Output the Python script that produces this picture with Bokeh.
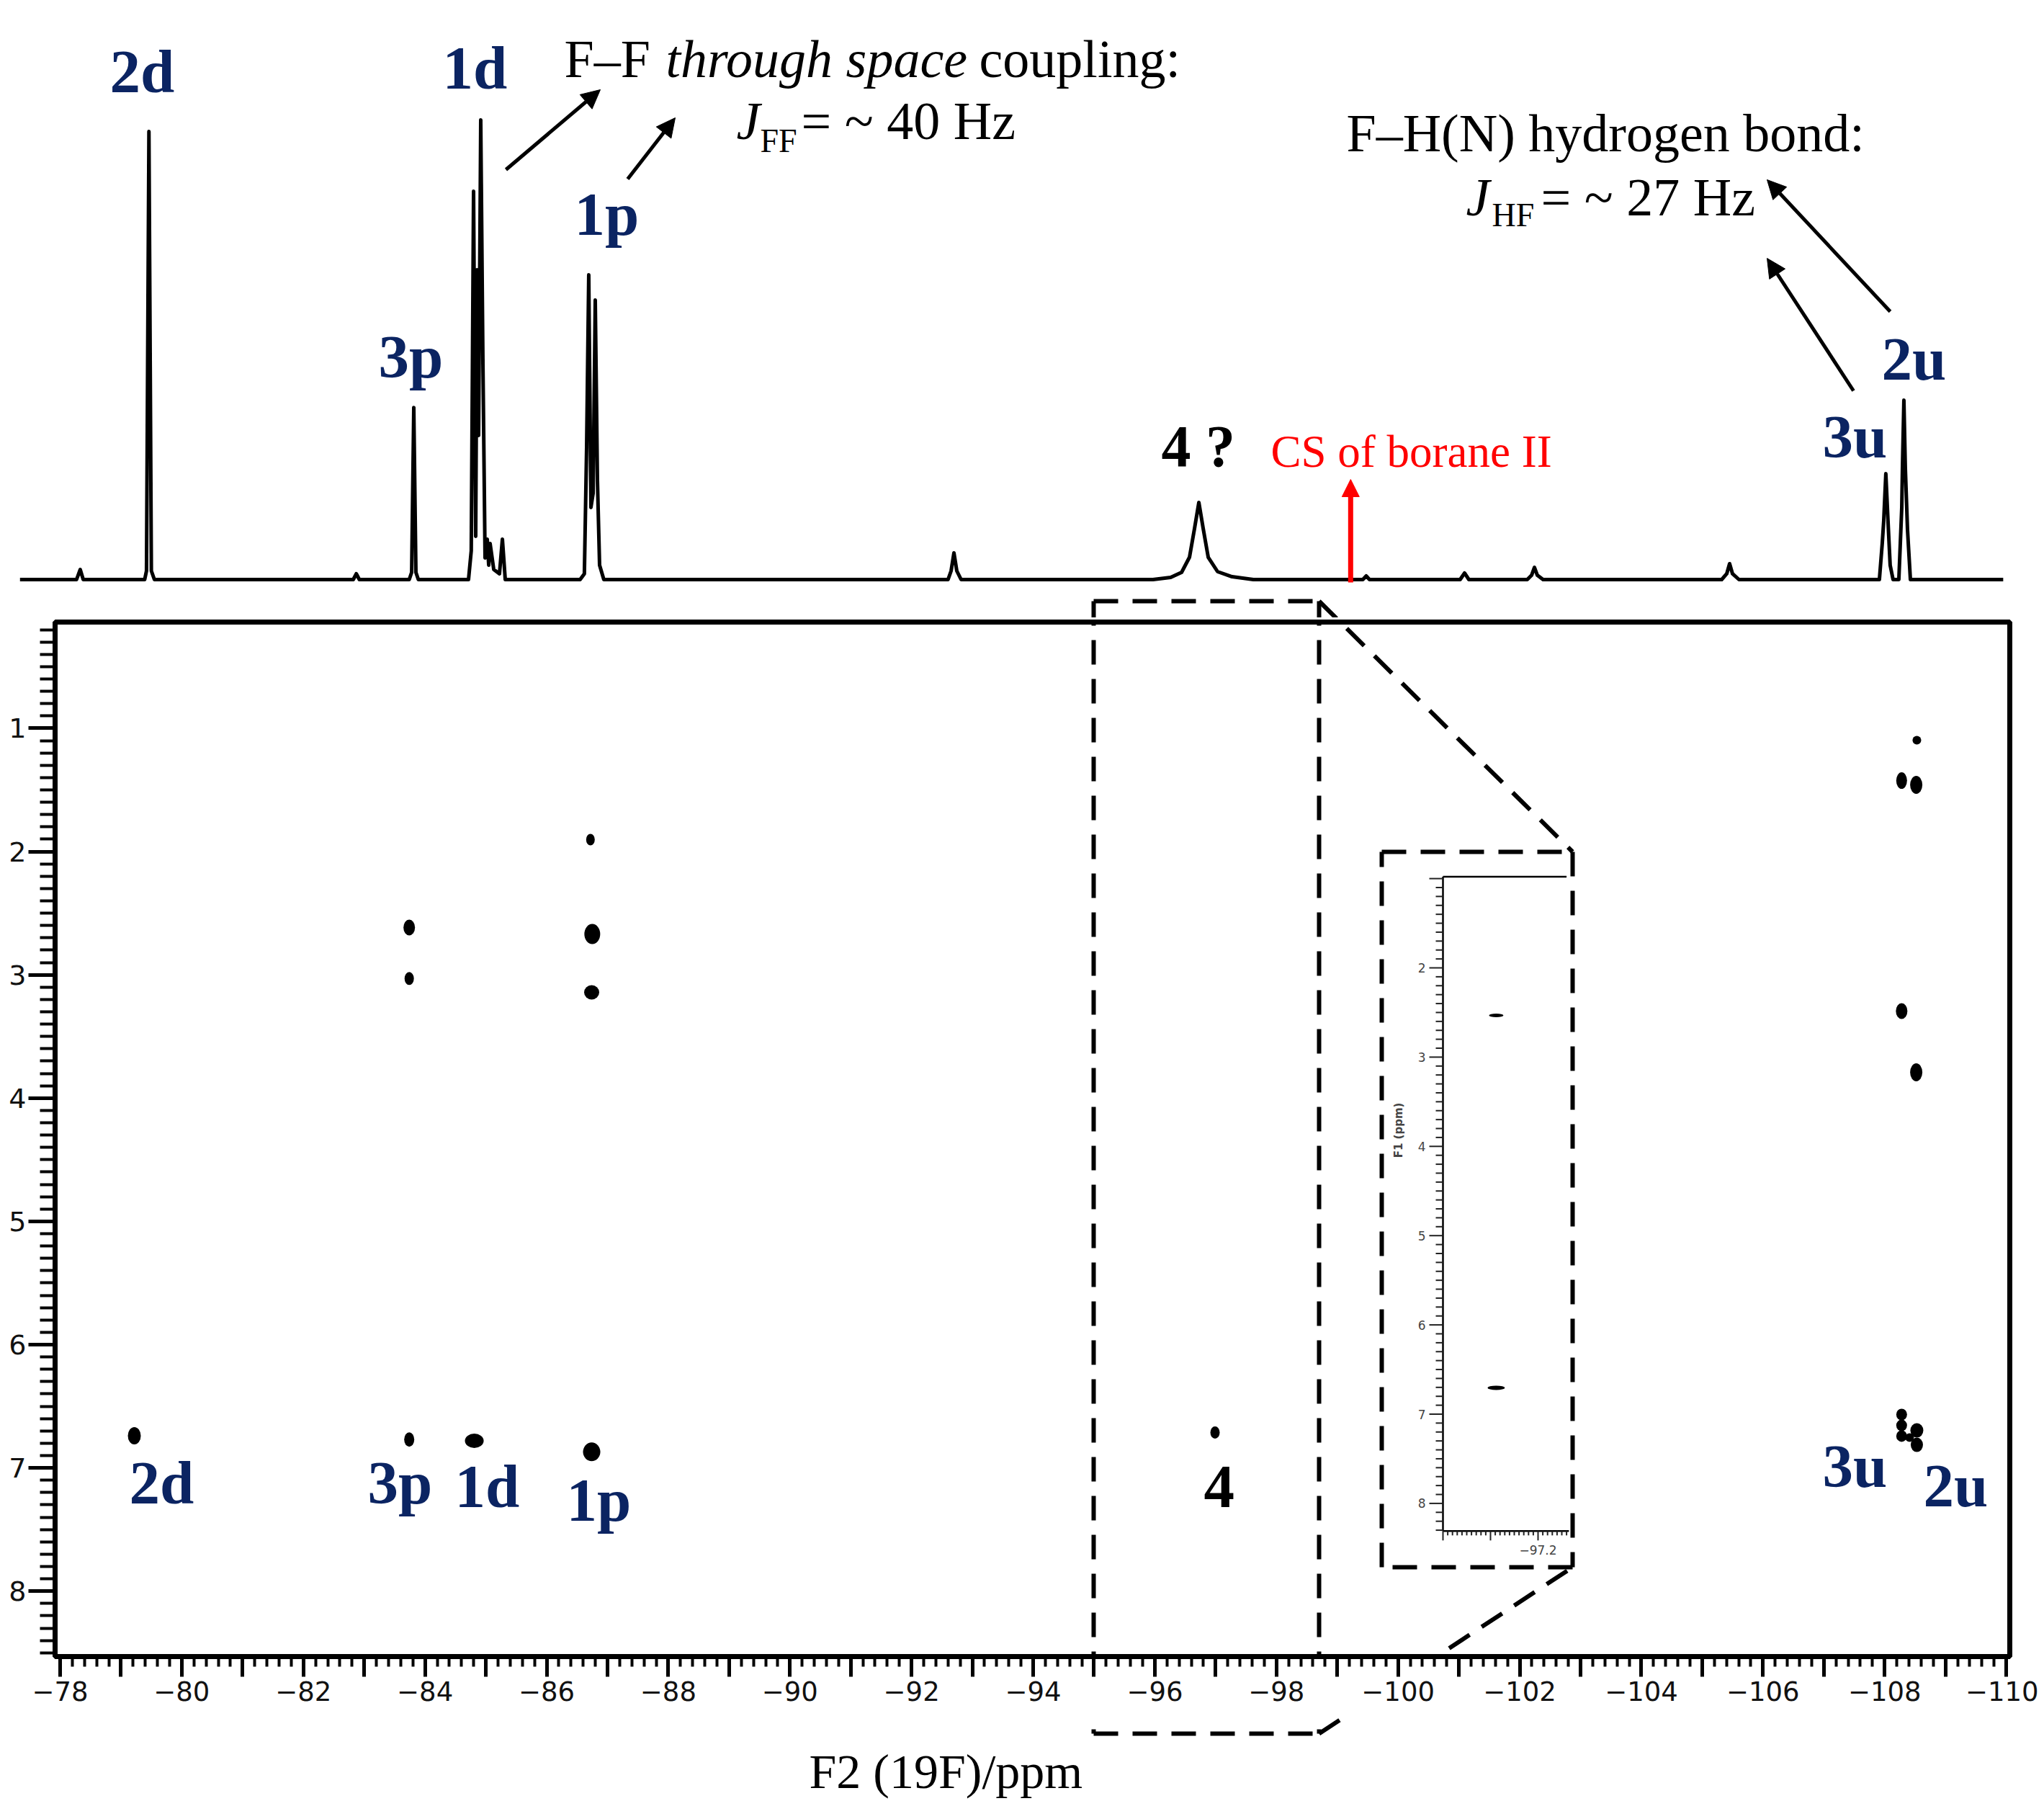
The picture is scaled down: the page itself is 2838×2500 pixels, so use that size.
import numpy as np
from bokeh.plotting import figure
from bokeh.models import Range1d, Label, Arrow, NormalHead, SingleIntervalTicker
from bokeh.layouts import column
from bokeh.embed import file_html
from bokeh.resources import INLINE
from bokeh.core.properties import value

# ---------------------------------------------------------------- data
# 1D 19F spectrum trace, vertices (ppm, intensity a.u., 2d = 100)
spec_ppm = [-77.34,
            -78.27, -78.33, -78.38,
            -79.39, -79.42, -79.46, -79.50, -79.55,
            -82.82, -82.87, -82.92,
            -83.74, -83.78, -83.815, -83.85, -83.89,
            -84.715, -84.76, -84.798, -84.833, -84.857, -84.881, -84.916, -84.952,
            -84.987, -85.023, -85.047, -85.070, -85.130, -85.224, -85.272, -85.319,
            -86.55, -86.62, -86.657, -86.692, -86.728, -86.764, -86.799, -86.835, -86.87, -86.94,
            -92.60, -92.65, -92.697, -92.744, -92.815,
            -95.97, -96.26, -96.44, -96.57, -96.653, -96.724, -96.795, -96.878, -97.032, -97.27, -97.62,
            -99.42, -99.476, -99.53,
            -101.02, -101.093, -101.164,
            -102.124, -102.195, -102.242, -102.29, -102.384,
            -105.321, -105.404, -105.451, -105.499, -105.605,
            -107.914, -107.961, -107.985, -108.02, -108.056, -108.091, -108.139,
            -108.234, -108.282, -108.293, -108.317, -108.341, -108.376, -108.424,
            -109.95]
spec_int = [0.0,
            0.0, 2.25, 0.0,
            0.0, 1.93, 100.0, 1.93, 0.0,
            0.0, 1.29, 0.0,
            0.0, 1.61, 38.4, 1.61, 0.0,
            0.0, 6.43, 86.66, 9.65, 69.13, 32.15, 102.57, 48.23,
            4.82, 9.00, 3.22, 8.04, 2.25, 1.29, 9.00, 0.0,
            0.0, 1.29, 29.58, 68.01, 16.08, 19.29, 62.38, 22.03, 3.22, 0.0,
            0.0, 1.93, 5.95, 1.93, 0.0,
            0.0, 0.48, 1.61, 4.98, 11.41, 17.2, 11.41, 4.98, 1.77, 0.64, 0.0,
            0.0, 0.8, 0.0,
            0.0, 1.45, 0.0,
            0.0, 0.96, 2.73, 0.96, 0.0,
            0.0, 1.29, 3.54, 1.29, 0.0,
            0.0, 8.04, 13.02, 23.63, 13.02, 3.22, 0.0,
            0.0, 16.08, 24.76, 40.03, 24.76, 11.25, 0.0,
            0.0]

borane_ii_ppm = -99.22   # chemical shift of borane II (red arrow)

# 2D cross peaks: F2 (19F, ppm) and F1 (1H, ppm)
xpk_name = ["2d", "3p", "1d", "1p", "3p", "3p", "1p", "1p", "1p", "4",
            "2u", "3u", "2u", "3u", "2u", "3u", "3u", "3u", "2u", "2u", "2u"]
xpk_f2 = [-79.22, -83.74, -84.81, -86.74, -83.74, -83.74, -86.72, -86.75, -86.74, -96.99,
          -108.53, -108.28, -108.52, -108.28, -108.52, -108.28, -108.28, -108.28, -108.53, -108.53, -108.41]
xpk_f1 = [6.74, 6.77, 6.78, 6.87, 2.616, 3.03, 1.903, 2.669, 3.142, 6.713,
          1.096, 1.424, 1.459, 3.294, 3.791, 6.567, 6.655, 6.742, 6.696, 6.813, 6.754]

# inset (zoom on compound 4)
inset_f2 = [-97.112, -97.112]
inset_f1 = [2.533, 6.705]
inset_f2_lim = (-97.0, -97.26)
inset_f1_lim = (0.98, 8.31)

# ---------------------------------------------------------------- geometry helpers (page px -> data)
def tx(px):
    return -78.0 - (px - 83.0) / 84.44

def ty1(py):
    return (804.0 - py) / 6.22

def ty2(py):
    return 0.138 + (py - 863.0) / 171.1

def ix(px):
    return -97.2 + (2135.0 - px) / 660.0

def iy(py):
    return 2.0 + (py - 1343.0) / 123.9

NAVY = "#0b2462"
SERIF = "Liberation Serif"
W = 2830
P2_BOTTOM = 84          # x-axis strip height under the 2D frame
P3_TOP = 2299 + P2_BOTTOM

# ---------------------------------------------------------------- top: 1D spectrum
p1 = figure(width=W, height=857, x_range=Range1d(tx(0), tx(W)),
            y_range=Range1d(ty1(857), ty1(0)), output_backend="svg",
            toolbar_location=None, x_axis_location=None, y_axis_location=None,
            min_border=0, outline_line_color=None,
            background_fill_color="white", border_fill_color="white")
try:
    p1.frame_align = False
except Exception:
    pass
p1.xgrid.visible = False
p1.ygrid.visible = False
p1.extra_y_ranges = {"f1": Range1d(ty2(857), ty2(0))}
p1.line(spec_ppm, spec_int, line_width=5, line_color="black", line_join="round")


def lab(p, fy, text, px, py, size, color="black", style="normal"):
    # py = wanted alphabetic baseline (page px); placed through its middle
    p.add_layout(Label(x=tx(px), y=fy(py - 0.3375 * size), text=text, text_font=SERIF,
                       text_font_size=f"{size}px", text_color=color,
                       text_font_style=style, text_align="left",
                       text_baseline="middle"))


for t, px, py in [("2d", 152, 127), ("1d", 614, 122), ("1p", 797, 325),
                  ("3p", 525, 523), ("2u", 2612, 526), ("3u", 2530, 634)]:
    lab(p1, ty1, t, px, py, 85, NAVY, "bold")
lab(p1, ty1, "4 ?", 1612, 647, 82, "black", "bold")
lab(p1, ty1, "CS of borane II", 1764, 648, 63, "#ff0000")

lab(p1, ty1, "F\u2013F", 783, 106, 74)
lab(p1, ty1, "through space", 924, 106, 74, style="italic")
lab(p1, ty1, "coupling:", 1359, 106, 74)
lab(p1, ty1, "J", 1022, 192, 74, style="italic")
lab(p1, ty1, "FF", 1055, 211, 46)
lab(p1, ty1, "= ~ 40 Hz", 1112, 192, 74)

lab(p1, ty1, "F\u2013H(N) hydrogen bond:", 1869, 209, 74)
lab(p1, ty1, "J", 2035, 298, 74, style="italic")
lab(p1, ty1, "HF", 2071, 314, 46)
lab(p1, ty1, "= ~ 27 Hz", 2139, 298, 74)

for (x0, y0, x1, y1) in [(702, 235, 833, 124), (871, 248, 937, 163),
                         (2573, 542, 2453, 358), (2624, 432, 2453, 249)]:
    p1.add_layout(Arrow(end=NormalHead(size=26, fill_color="black", line_color="black", line_width=1),
                        x_start=tx(x0), y_start=ty1(y0), x_end=tx(x1), y_end=ty1(y1),
                        line_width=5, line_color="black"))

p1.add_layout(Arrow(end=NormalHead(size=24, fill_color="#ff0000", line_color="#ff0000", line_width=1),
                    x_start=borane_ii_ppm, y_start=ty1(808), x_end=borane_ii_ppm, y_end=ty1(665),
                    line_width=7, line_color="#ff0000"))

# ---------------------------------------------------------------- middle: 2D map
p2 = figure(width=W, height=P3_TOP - 857, x_range=Range1d(tx(76), tx(2790)),
            y_range=Range1d(ty2(2299), ty2(863)), output_backend="svg",
            toolbar_location=None, min_border_left=76, min_border_right=W - 2790,
            min_border_top=6, min_border_bottom=P2_BOTTOM,
            outline_line_color="black", outline_line_width=7,
            background_fill_color="white", border_fill_color="white")
p2.xgrid.visible = False
p2.ygrid.visible = False

xa = p2.xaxis[0]
xa.ticker = SingleIntervalTicker(interval=1, num_minor_ticks=5)
xa.major_label_overrides = {v: ("\u2212%d" % (-v) if v % 2 == 0 else "") for v in range(-112, -76)}
xa.major_tick_out = 28
xa.major_tick_in = 0
xa.minor_tick_out = 14
xa.minor_tick_in = 0
xa.major_tick_line_width = 5
xa.minor_tick_line_width = 4
xa.axis_line_width = 7
xa.major_label_text_font = "DejaVu Sans"
xa.major_label_text_font_size = "37px"
xa.major_label_text_color = "#111111"
xa.major_label_standoff = 6

ya = p2.yaxis[0]
ya.ticker = SingleIntervalTicker(interval=1, num_minor_ticks=10)
ya.major_tick_out = 37
ya.major_tick_in = 0
ya.minor_tick_out = 21
ya.minor_tick_in = 0
ya.major_tick_line_width = 5
ya.minor_tick_line_width = 4
ya.axis_line_width = 7
ya.major_label_text_font = "DejaVu Sans"
ya.major_label_text_font_size = "38px"
ya.major_label_text_color = "#111111"
ya.major_label_standoff = 3

# cross-peak footprint sizes (screen px, styling)
dot_w = [18, 14, 26, 24, 16, 13, 12, 22, 21, 13, 12, 15, 17, 16, 17, 15, 15, 15, 18, 17, 12]
dot_h = [24, 20, 20, 26, 22, 18, 16, 28, 20, 17, 12, 23, 25, 22, 25, 16, 16, 16, 20, 20, 12]
p2.ellipse(x=xpk_f2, y=xpk_f1, width=dot_w, height=dot_h,
           width_units="screen", height_units="screen",
           fill_color="black", line_color=None)

for t, px, py in [("2d", 179, 2086), ("3p", 510, 2086), ("1d", 631, 2091),
                  ("1p", 786, 2110), ("3u", 2530, 2063), ("2u", 2670, 2090)]:
    lab(p2, ty2, t, px, py, 85, NAVY, "bold")
lab(p2, ty2, "4", 1671, 2092, 85, "black", "bold")

# inset panel drawn on its own ranges
p2.extra_x_ranges = {"ix": Range1d(ix(76), ix(2790))}
p2.extra_y_ranges = {"iy": Range1d(iy(2299), iy(863))}
IX = dict(x_range_name="ix", y_range_name="iy")

fx0, fx1 = inset_f2_lim
fy0, fy1 = inset_f1_lim
p2.segment(x0=[fx0, fx0, fx0], y0=[fy0, fy0, fy1], x1=[fx0, fx1, fx1 - 0.005], y1=[fy1, fy0, fy1],
           line_width=2.5, line_color="black", **IX)

yt = np.round(np.arange(1.0, 8.301, 0.1), 2)
ymaj = np.isclose(yt, np.round(yt))
ylen = np.where(ymaj, 19, 10) / 660.0
p2.segment(x0=[fx0] * len(yt), y0=yt, x1=fx0 + ylen, y1=yt, line_width=2,
           line_color="#222222", **IX)
ylab = [int(v) for v in yt[ymaj] if 2 <= v <= 8]
p2.text(x=[fx0 + 24 / 660.0] * len(ylab), y=ylab, text=[str(v) for v in ylab],
        text_font=value("DejaVu Sans"), text_font_size="17px", text_color="#444444",
        text_align="right", text_baseline="middle", **IX)

xt = np.round(np.arange(-97.0, -97.265, -0.01), 3)
xmaj = np.isclose(xt * 10, np.round(xt * 10))
xlen = np.where(xmaj, 13, 6) / 123.9
p2.segment(x0=xt, y0=[fy1] * len(xt), x1=xt, y1=fy1 + xlen, line_width=2,
           line_color="#222222", **IX)
p2.text(x=[-97.2], y=[fy1 + 20 / 123.9], text=["\u221297.2"],
        text_font=value("DejaVu Sans"), text_font_size="17px", text_color="#444444",
        text_align="center", text_baseline="top", **IX)
p2.text(x=[fx0 + 62 / 660.0], y=[3.82], text=["F1 (ppm)"], angle=np.pi / 2,
        text_font=value("DejaVu Sans"), text_font_size="15px", text_font_style="bold",
        text_color="#444444", text_align="center", text_baseline="middle", **IX)

p2.ellipse(x=inset_f2, y=inset_f1, width=[20, 24], height=[5, 6],
           width_units="screen", height_units="screen",
           fill_color="black", line_color=None, **IX)

# ---------------------------------------------------------------- bottom strip (axis title)
p3 = figure(width=W, height=2499 - P3_TOP, x_range=p2.x_range,
            y_range=Range1d(ty2(2499), ty2(P3_TOP)), output_backend="svg",
            toolbar_location=None, x_axis_location=None, y_axis_location=None,
            min_border_left=76, min_border_right=W - 2790, min_border_top=0, min_border_bottom=0,
            outline_line_color=None, background_fill_color="white", border_fill_color="white")
p3.xgrid.visible = False
p3.ygrid.visible = False
lab(p3, ty2, "F2 (19F)/ppm", 1123, 2481, 68)

# ---------------------------------------------------------------- dashed zoom box + connector
dash_segs = [(1518, 834, 1831, 834), (1518, 834, 1518, 2406), (1518, 2406, 1831, 2406),
             (1831, 834, 1831, 2406), (1831, 834, 2183, 1182), (1831, 2406, 2183, 2175),
             (1918, 1182, 2183, 1182), (2183, 1182, 2183, 2175), (2183, 2175, 1918, 2175),
             (1918, 2175, 1918, 1182)]
sx0 = [tx(s[0]) for s in dash_segs]
sy0 = [ty2(s[1]) for s in dash_segs]
sx1 = [tx(s[2]) for s in dash_segs]
sy1 = [ty2(s[3]) for s in dash_segs]
dash_style = dict(line_width=6, line_color="black", line_dash="34 20")
p1.segment(x0=sx0, y0=sy0, x1=sx1, y1=sy1, y_range_name="f1", **dash_style)
p2.segment(x0=sx0, y0=sy0, x1=sx1, y1=sy1, **dash_style)
p3.segment(x0=sx0, y0=sy0, x1=sx1, y1=sy1, **dash_style)

layout = column(p1, p2, p3, spacing=0)
open("out.html", "w").write(file_html(layout, INLINE))
